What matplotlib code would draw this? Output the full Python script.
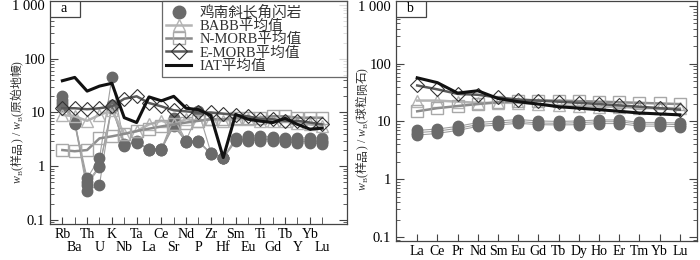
import matplotlib
matplotlib.use("Agg")
import matplotlib.pyplot as plt
from matplotlib.lines import Line2D
from matplotlib.patches import Rectangle
from matplotlib.ticker import FixedLocator, LogLocator, NullFormatter

plt.rcParams["font.family"] = ["Liberation Serif", "Noto Sans CJK SC"]

# ─── Data: spider diagram (primitive mantle normalised) ──
SPIDER_ELEMENTS = ["Rb", "Ba", "Th", "U", "K", "Nb", "Ta", "La", "Ce", "Sr", "Nd",
                   "P", "Zr", "Hf", "Sm", "Eu", "Ti", "Gd", "Tb", "Y", "Yb", "Lu"]
spider_samples = [
    [20, 6.5, 0.6, 1.4, 45, 2.5, 2.9, 2.1, 2.1, 8.0, 3.0, 10.5, 1.8, 1.4, 3.4, 3.6, 3.7, 3.5, 3.4, 3.3, 3.4, 3.3],
    [17, 6.0, 0.5, 1.0, 13, 2.4, 2.8, 2.0, 2.0, 6.0, 2.8, 3.0, 1.7, 1.4, 3.1, 3.3, 3.4, 3.3, 3.2, 3.1, 3.1, 3.0],
    [15, 7.0, 0.45, 0.95, 12, 2.6, 2.7, 2.1, 2.1, 5.5, 2.9, 2.9, 1.75, 1.45, 3.1, 3.2, 3.2, 3.1, 3.0, 2.9, 2.9, 2.8],
    [13, 6.5, 0.35, 0.45, 14, 2.5, 2.8, 2.0, 2.0, 7.0, 2.8, 2.8, 1.7, 1.4, 2.9, 3.0, 3.0, 2.9, 2.8, 2.7, 2.7, 2.6],
]
spider_babb = [9, 8.5, 7, 9, 11, 4, 4.5, 6, 7, 6, 7.5, 7, 7.5, 7, 7.5, 7.5, 7, 7, 7, 6.5, 6, 5.5]
spider_nmorb = [2.0, 1.9, 2.0, 3.3, 3.6, 4.0, 4.5, 5.0, 5.5, 6.0, 6.5, 7.0, 7.5, 7.5,
                8.0, 8.0, 8.0, 8.5, 8.5, 8.0, 8.0, 8.0]
spider_emorb = [12, 12, 11.5, 12, 13, 18, 20, 15, 13, 11, 10.5, 10, 10, 9.5,
                9, 8.5, 7.5, 7.5, 7, 7, 6.5, 6]
spider_iat = [39, 45, 25, 31, 35, 8, 6.5, 19.5, 16.5, 20, 12, 11.3, 8.8, 1.45,
              9.2, 7.5, 6.9, 6.5, 7.8, 6, 4.9, 5.1]

# ─── Data: REE pattern (chondrite normalised) ──
REE_ELEMENTS = ["La", "Ce", "Pr", "Nd", "Sm", "Eu", "Gd", "Tb", "Dy", "Ho", "Er", "Tm", "Yb", "Lu"]
ree_samples = [
    [7.0, 7.4, 8.2, 9.6, 10.2, 10.8, 10.2, 10.0, 10.2, 10.6, 10.6, 9.6, 9.6, 9.4],
    [6.4, 6.8, 7.6, 8.8, 9.4, 10.0, 9.4, 9.3, 9.5, 9.9, 9.9, 9.0, 9.0, 8.8],
    [5.8, 6.2, 7.0, 8.2, 8.7, 9.3, 8.8, 8.7, 8.8, 9.2, 9.2, 8.3, 8.3, 8.1],
]
ree_babb = [23, 23, 22, 21, 21, 21, 20, 19, 18.5, 18, 18, 17, 17, 17]
ree_nmorb = [15, 17, 18.5, 20, 21.5, 22.5, 23, 23, 22.5, 22, 21.5, 21, 20.5, 20]
ree_emorb = [42, 36, 30, 29, 26, 24, 23, 22, 21, 20, 19, 18, 17, 16]
ree_iat = [57, 47, 31, 34, 25, 22, 20, 18, 17, 16, 15, 14, 13.5, 13]

LEGEND_LABELS = ["鸡南斜长角闪岩", "BABB平均值", "N-MORB平均值", "E-MORB平均值", "IAT平均值"]

C_SAMPLE = "#6a6a6a"
C_BABB = "#b4b4b4"
C_NMORB = "#8c8c8c"
C_EMORB = "#5a5a5a"
C_IAT = "#111111"
C_FRAME = "#444444"
C_TEXT = "#333333"

W, H = 700, 260
CJK = "Noto Sans CJK SC"


def draw_panel(ax, elements, samples, babb, nmorb, emorb, iat):
    x = list(range(len(elements)))
    for s in samples:
        ax.plot(x, s, color="#a0a0a0", lw=0.8, zorder=2)
        ax.plot(x, s, ls="none", marker="o", ms=7.5, mfc=C_SAMPLE, mec=C_SAMPLE, zorder=3)
    ax.plot(x, babb, color=C_BABB, lw=1.8, marker="^", ms=8, mfc="none", mec=C_BABB, zorder=4)
    ax.plot(x, nmorb, color=C_NMORB, lw=1.8, marker="s", ms=8, mfc="none", mec="#a8a8a8", zorder=4)
    ax.plot(x, emorb, color=C_EMORB, lw=1.8, marker="D", ms=7, mfc="none", mec="#333333",
            mew=0.8, zorder=5)
    ax.plot(x, iat, color=C_IAT, lw=2.2, zorder=6)

    ax.set_yscale("log")
    ax.yaxis.set_major_locator(FixedLocator([0.1, 1, 10, 100, 1000]))
    ax.set_yticklabels(["0.1", "1", "10", "100", "1 000"])
    ax.yaxis.set_minor_locator(LogLocator(base=10, subs=range(2, 10)))
    ax.yaxis.set_minor_formatter(NullFormatter())
    ax.tick_params(axis="y", which="both", direction="in", right=True, labelsize=10.5,
                   color=C_FRAME)
    ax.tick_params(axis="y", which="major", length=6)
    ax.tick_params(axis="y", which="minor", length=3)
    ax.tick_params(axis="x", which="both", direction="in", length=5, labelsize=10,
                   color=C_FRAME)
    for sp in ax.spines.values():
        sp.set_color(C_FRAME)
        sp.set_linewidth(0.9)


def panel_tag(ax, letter, w_px, h_px, ax_w_px, ax_h_px):
    ax.add_patch(Rectangle((0, 1 - h_px / ax_h_px), w_px / ax_w_px, h_px / ax_h_px,
                           transform=ax.transAxes, fc="white", ec=C_FRAME, lw=0.9, zorder=10))
    ax.text(0.5 * w_px / ax_w_px - 0.005, 1 - 0.5 * h_px / ax_h_px, letter, transform=ax.transAxes,
            ha="center", va="center", fontsize=10, zorder=11)


def rotated_label(fig, x_px, yc_px, tail, size=8.5):
    # w_B(样品) / w_B(...) written bottom-to-top, one glyph per text so the
    # rotated CJK glyphs keep their full advance
    sub = dict(fontsize=size * 0.62, family="Liberation Serif")
    ital = dict(style="italic", family="Liberation Serif")
    cjk = dict(family=CJK)
    latin = dict(family="Liberation Serif")
    glyphs = [("w", ital, 0, 0), ("B", sub, 2.0, 0.5), ("(", latin, 0, 0)]
    glyphs += [(c, cjk, 0, 0) for c in "样品"]
    glyphs += [(")", latin, 0, 3), ("/", latin, 0, 3), ("w", ital, 0, 0),
               ("B", sub, 2.0, 0.5), ("(", latin, 0, 0)]
    glyphs += [(c, cjk, 0, 0) for c in tail]
    glyphs += [(")", latin, 0, 0)]
    renderer = fig.canvas.get_renderer()
    advances = []
    for s, kw, dx, gap in glyphs:
        opts = dict(fontsize=size)
        opts.update(kw)
        if kw is cjk:
            adv = size * fig.dpi / 72  # full-width glyph
        else:
            t = fig.text(0, 0, s, **opts)
            adv = t.get_window_extent(renderer).width
            t.remove()
        advances.append(adv + gap)
    y = yc_px - sum(advances) / 2
    for (s, kw, dx, gap), adv in zip(glyphs, advances):
        opts = dict(fontsize=size, color=C_TEXT, rotation=90)
        opts.update(kw)
        if kw is cjk:
            fig.text((x_px - 0.33 * size * fig.dpi / 72) / W, (y + adv / 2) / H, s,
                     ha="center", va="center", **opts)
        else:
            fig.text((x_px + dx) / W, y / H, s, rotation_mode="anchor", ha="left",
                     va="baseline", **opts)
        y += adv


fig = plt.figure(figsize=(7, 2.6), dpi=100)

# Panel a
ax1 = fig.add_axes([50 / W, 1 - 224 / H, 297 / W, 223 / H])
draw_panel(ax1, SPIDER_ELEMENTS, spider_samples, spider_babb, spider_nmorb, spider_emorb, spider_iat)
ax1.set_xlim(-1, 23)
ax1.set_ylim(0.084, 1190)
ax1.set_xticks(range(0, len(SPIDER_ELEMENTS), 2))
ax1.set_xticklabels(SPIDER_ELEMENTS[0::2])
ax1.set_xticks(range(1, len(SPIDER_ELEMENTS), 2), minor=True)
ax1.set_xticklabels(SPIDER_ELEMENTS[1::2], minor=True)
ax1.tick_params(axis="x", which="major", pad=3)
ax1.tick_params(axis="x", which="minor", pad=12.5)
panel_tag(ax1, "a", 30, 16, 297, 223)

handles = [
    Line2D([], [], ls="none", marker="o", ms=9, mfc=C_SAMPLE, mec=C_SAMPLE),
    Line2D([], [], color=C_BABB, lw=1.8, marker="^", ms=9, mfc="none", mec=C_BABB),
    Line2D([], [], color=C_NMORB, lw=1.8, marker="s", ms=9, mfc="none", mec="#a8a8a8"),
    Line2D([], [], color=C_EMORB, lw=1.8, marker="D", ms=8, mfc="none", mec="#333333", mew=0.8),
    Line2D([], [], color=C_IAT, lw=2.2),
]
leg = ax1.legend(handles, LEGEND_LABELS, loc="upper left",
                 bbox_to_anchor=(112 / 297, 0, 1 - 112 / 297, 1.0), mode="expand",
                 fontsize=10.5, frameon=True, fancybox=False, borderaxespad=0,
                 handlelength=1.7, labelspacing=0.0, borderpad=0.3, handletextpad=0.6)
leg.get_frame().set_edgecolor(C_FRAME)
leg.get_frame().set_linewidth(0.9)
leg.set_zorder(12)
for t in leg.get_texts():
    t.set_color(C_TEXT)

# Panel b
ax2 = fig.add_axes([396 / W, 1 - 241 / H, 301 / W, 240 / H])
draw_panel(ax2, REE_ELEMENTS, ree_samples, ree_babb, ree_nmorb, ree_emorb, ree_iat)
ax2.set_xlim(-1.05, 13.85)
ax2.set_ylim(0.085, 1220)
ax2.set_xticks(range(len(REE_ELEMENTS)))
ax2.set_xticklabels(REE_ELEMENTS)
ax2.tick_params(axis="x", pad=3)
panel_tag(ax2, "b", 30, 16, 301, 240)

rotated_label(fig, 21, H - 122, "原始地幔")
rotated_label(fig, 366, H - 129, "球粒陨石")

fig.savefig("out.png", dpi=100)
